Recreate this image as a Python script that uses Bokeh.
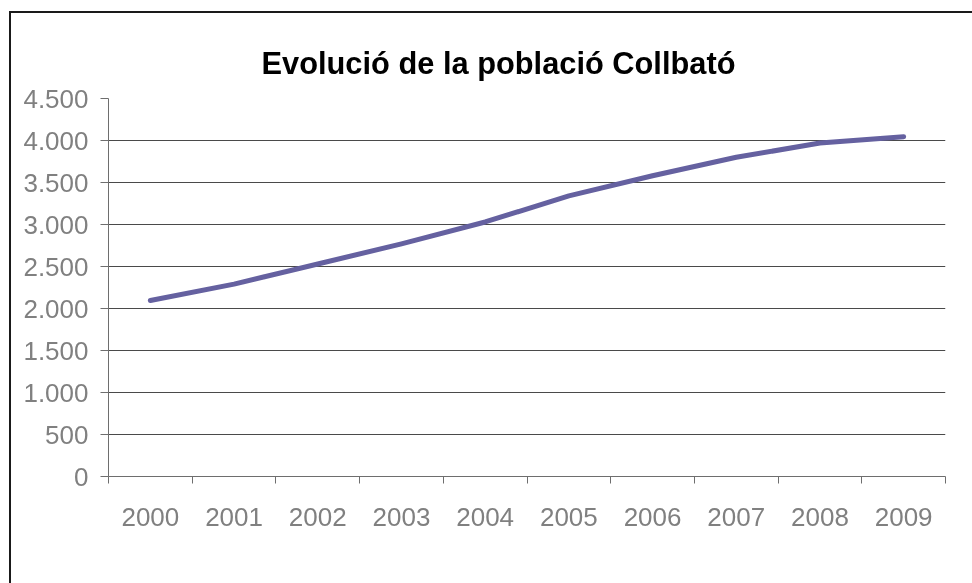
from bokeh.plotting import figure
from bokeh.models import FixedTicker, Range1d, Grid
from bokeh.embed import file_html
from bokeh.resources import INLINE

# ---- data ----
years = ["2000", "2001", "2002", "2003", "2004", "2005", "2006", "2007", "2008", "2009"]
population = [2095, 2290, 2530, 2770, 3030, 3340, 3580, 3800, 3970, 4045]
y_ticks = [0, 500, 1000, 1500, 2000, 2500, 3000, 3500, 4000, 4500]
title_text = "Evolució de la població Collbató"

FONT = "Liberation Sans"
LABEL_COLOR = "#808080"
AXIS_COLOR = "#6e6e6e"
GRID_COLOR = "#4a4a4a"
LINE_COLOR = "#6561A0"

# the chart box is larger than the window: only its left and top edges show
W, H = 1000, 620
p = figure(
    width=W, height=H,
    output_backend="svg", toolbar_location=None,
    x_range=Range1d(0, len(years)), y_range=Range1d(y_ticks[0], y_ticks[-1]),
    min_border_left=97, min_border_right=66, min_border_top=85, min_border_bottom=157,
)
p.styles = {
    "position": "fixed",
    "left": "9px",
    "top": "11px",
    "border-left": "2px solid #1a1a1a",
    "border-top": "2px solid #1a1a1a",
}
p.outline_line_color = None
p.background_fill_color = "white"
p.border_fill_color = "white"

# title
p.title.text = title_text
p.title.text_font = FONT
p.title.text_font_style = "bold"
p.title.text_font_size = "30.8px"
p.title.text_color = "black"
p.title.align = "left"
p.title.offset = 153
p.title.standoff = 35

# x axis (categories centred between boundary ticks)
centers = [i + 0.5 for i in range(len(years))]
bounds = list(range(len(years) + 1))
xa = p.xaxis[0]
xa.ticker = FixedTicker(ticks=centers, minor_ticks=bounds)
xa.major_label_overrides = {c: y for c, y in zip(centers, years)}
xa.major_tick_line_color = None
xa.major_tick_out = 7
xa.major_tick_in = 0
xa.minor_tick_line_color = AXIS_COLOR
xa.minor_tick_out = 7
xa.minor_tick_in = 0
xa.axis_line_color = AXIS_COLOR
xa.major_label_text_font = FONT
xa.major_label_text_font_size = "26px"
xa.major_label_text_color = LABEL_COLOR
xa.major_label_standoff = 24

# y axis
ya = p.yaxis[0]
ya.ticker = FixedTicker(ticks=y_ticks)
ya.major_label_overrides = {v: f"{v:,}".replace(",", ".") for v in y_ticks}
ya.major_tick_line_color = AXIS_COLOR
ya.major_tick_out = 8
ya.major_tick_in = 0
ya.minor_tick_line_color = None
ya.axis_line_color = AXIS_COLOR
ya.major_label_text_font = FONT
ya.major_label_text_font_size = "26px"
ya.major_label_text_color = LABEL_COLOR
ya.major_label_standoff = 12

# grids
p.xgrid.visible = False
p.ygrid.ticker = FixedTicker(ticks=y_ticks[1:-1])
p.ygrid.grid_line_color = GRID_COLOR
p.ygrid.grid_line_width = 1
top_grid = Grid(dimension=1, ticker=FixedTicker(ticks=[y_ticks[-1]]),
                grid_line_color="#e6e6e6", grid_line_width=1)
p.add_layout(top_grid)

# series
p.line(centers, population, line_width=5, line_color=LINE_COLOR,
       line_cap="round", line_join="round")

open("out.html", "w").write(file_html(p, INLINE))
